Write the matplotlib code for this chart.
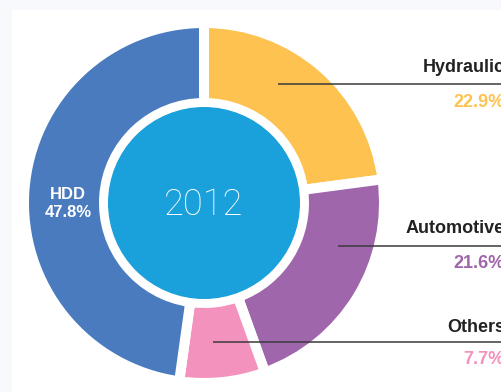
import matplotlib
matplotlib.use("Agg")
import matplotlib.pyplot as plt
from matplotlib.patches import Circle, Rectangle

# ── Data ──
segments = ["Hydraulic", "Automotive", "Others", "HDD"]
shares = [22.9, 21.6, 7.7, 47.8]
colors = ["#fdc24f", "#a066ab", "#f492be", "#4a7bbf"]
year_label = "2012"

W, H = 501, 392
fig = plt.figure(figsize=(W / 100, H / 100), dpi=100)
fig.patch.set_facecolor("#f7f9fc")
ax = fig.add_axes([0, 0, 1, 1])

# white panel
ax.add_patch(Rectangle((12, 0), W, H - 10, facecolor="white", edgecolor="none", zorder=0))

cx, cy = 204, H - 203

ax.pie(shares, colors=colors, startangle=90, counterclock=False,
       radius=180, center=(cx, cy), frame=True,
       wedgeprops=dict(width=80, edgecolor="white", linewidth=7.2))
ax.set_xlim(0, W)
ax.set_ylim(0, H)
ax.set_aspect("equal")
ax.axis("off")

ax.add_patch(Circle((cx, cy), 96, facecolor="#1aa0da", edgecolor="none", zorder=5))
ax.text(cx, cy - 2, year_label, color="white", fontsize=26, fontweight="light",
        family=["Roboto", "DejaVu Sans"], ha="center", va="center", zorder=6)

# right-hand labels: (name y, line y, pct y, line start x) in pixel rows
label_pos = {
    "Hydraulic": (67, 84, 102, 278),
    "Automotive": (228, 246, 263, 338),
    "Others": (327, 342, 360, 213),
}
lab_font = ["Liberation Sans", "DejaVu Sans"]
for name, share, col in zip(segments, shares, colors):
    if name in label_pos:
        ty, ly, py, lx = label_pos[name]
        ax.plot([lx, W + 5], [H - ly, H - ly], color="#3a3a3a", lw=1.1, zorder=7,
                solid_capstyle="butt")
        ax.text(505, H - ty, name, color="#222222", fontsize=13, fontweight="bold",
                family=lab_font, ha="right", va="center", zorder=7)
        ax.text(505, H - py, f"{share}%", color=col, fontsize=13, fontweight="bold",
                family=lab_font, ha="right", va="center", zorder=7)
    else:
        ax.text(68, H - 194, name, color="white", fontsize=12, fontweight="bold",
                family=lab_font, ha="center", va="center", zorder=7)
        ax.text(68, H - 212, f"{share}%", color="white", fontsize=12, fontweight="bold",
                family=lab_font, ha="center", va="center", zorder=7)

fig.savefig("out.png", dpi=100, facecolor=fig.get_facecolor())
